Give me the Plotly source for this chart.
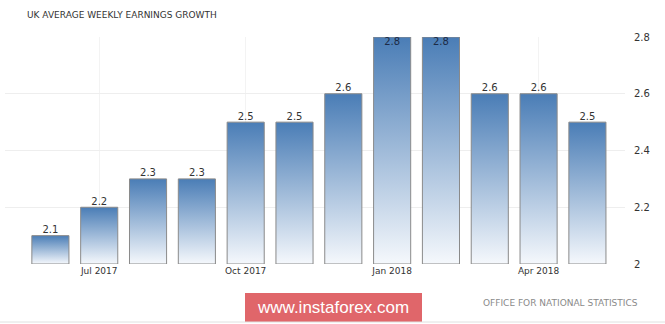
import plotly.graph_objects as go

months = ["Jun 2017", "Jul 2017", "Aug 2017", "Sep 2017", "Oct 2017", "Nov 2017",
          "Dec 2017", "Jan 2018", "Feb 2018", "Mar 2018", "Apr 2018", "May 2018"]
values = [2.1, 2.2, 2.3, 2.3, 2.5, 2.5, 2.6, 2.8, 2.8, 2.6, 2.6, 2.5]
tick_labels = ["Jul 2017", "Oct 2017", "Jan 2018", "Apr 2018"]
y_ticks = [2.0, 2.2, 2.4, 2.6, 2.8]

Y_MIN, Y_MAX = 2.0, 2.8
BAR_W = 0.76
FONT = "DejaVu Sans"

fig = go.Figure()

xs = list(range(len(values)))
for i, v in zip(xs, values):
    fig.add_trace(go.Scatter(
        x=[i - BAR_W / 2, i - BAR_W / 2, i + BAR_W / 2, i + BAR_W / 2, i - BAR_W / 2],
        y=[Y_MIN, v, v, Y_MIN, Y_MIN],
        mode="lines",
        fill="toself",
        fillgradient=dict(type="vertical",
                          colorscale=[[0, "#f5f8fc"], [1, "#4a7db6"]]),
        line=dict(color="#8a8a8a", width=1),
        hoverinfo="skip",
        showlegend=False,
    ))

fig.add_trace(go.Scatter(
    x=xs,
    y=values,
    mode="text",
    text=[f"{v:.1f}" for v in values],
    textposition=["bottom center" if v >= Y_MAX else "top center" for v in values],
    textfont=dict(family=FONT, size=10, color=["#1d2b45" if v >= Y_MAX else "#333333" for v in values]),
    hoverinfo="skip",
    showlegend=False,
    cliponaxis=False,
))

tick_pos = [months.index(t) for t in tick_labels]

fig.update_layout(
    width=665, height=324,
    margin=dict(l=5, r=40, t=37, b=60),
    paper_bgcolor="white",
    plot_bgcolor="white",
    title=dict(text="UK AVERAGE WEEKLY EARNINGS GROWTH",
               font=dict(family=FONT, size=9, color="#333333"),
               x=27 / 665, xanchor="left", xref="container",
               y=1 - 15 / 324, yanchor="middle", yref="container"),
    xaxis=dict(range=[-0.93, 11.77], tickvals=tick_pos, ticktext=tick_labels,
               showgrid=True, gridcolor="#f3f3f3", zeroline=False,
               showline=False, ticks="",
               tickfont=dict(family=FONT, size=9, color="#333333")),
    yaxis=dict(range=[Y_MIN, Y_MAX], tickvals=y_ticks,
               ticktext=[f"{t:g}" for t in y_ticks],
               side="right", showgrid=True, gridcolor="#eeeeee",
               zeroline=False, showline=False, ticks="",
               ticklabelstandoff=8,
               tickfont=dict(family=FONT, size=10, color="#333333")),
    shapes=[
        dict(type="rect", xref="paper", yref="paper",
             x0=240 / 620, x1=417 / 620, y0=-58 / 227, y1=-29 / 227,
             fillcolor="#e0666a", line=dict(width=0), layer="above"),
        dict(type="line", xref="paper", yref="paper",
             x0=-5 / 620, x1=660 / 620, y0=-58 / 227, y1=-58 / 227,
             line=dict(color="#e0e0e0", width=1)),
    ],
    annotations=[
        dict(text="www.instaforex.com", xref="paper", yref="paper",
             x=(240 + 417) / 2 / 620, y=-43.5 / 227, xanchor="center", yanchor="middle",
             showarrow=False, font=dict(family="Liberation Sans", size=17, color="white")),
        dict(text="OFFICE FOR NATIONAL STATISTICS", xref="paper", yref="paper",
             x=635 / 620, y=-39 / 227, xanchor="right", yanchor="middle",
             showarrow=False, font=dict(family=FONT, size=9, color="#8a8a8a")),
    ],
)

fig.write_html("out.html")
